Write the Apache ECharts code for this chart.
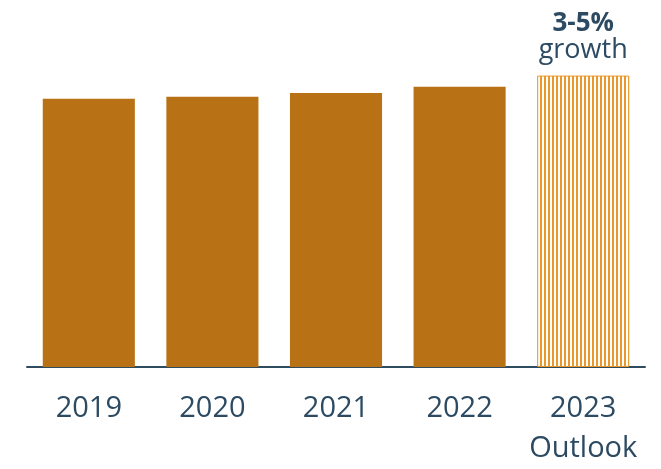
<!DOCTYPE html>
<html>
<head>
<meta charset="utf-8">
<style>
  html, body { margin: 0; padding: 0; background: #ffffff; }
  #chart { width: 661px; height: 469px; }
</style>
<script src="https://cdn.jsdelivr.net/npm/echarts@6/dist/echarts.min.js"></script>
</head>
<body>
<div id="chart"></div>
<script>
// Annual volume index (2019 = 100), with the 2023 outlook shown hatched
const categories = ['2019', '2020', '2021', '2022', '2023\nOutlook'];
const values = [100, 100.7, 102.1, 104.4, 108.6];
const outlookLabel = ['3-5%', 'growth'];

const textColor = '#2C4A62';
const solidColor = '#B87114';
const outlookColor = '#E9982C';

// Vertical stripe fill for the outlook bar
function stripePattern() {
  const c = document.createElement('canvas');
  c.width = 4; c.height = 4;
  const ctx = c.getContext('2d');
  ctx.fillStyle = '#ffffff';
  ctx.fillRect(0, 0, 4, 4);
  ctx.fillStyle = outlookColor;
  ctx.fillRect(0, 0, 2, 4);
  return c;
}

const lastIdx = values.length - 1;
const seriesData = values.map((v, i) => {
  if (i !== lastIdx) return { value: v, itemStyle: { color: solidColor } };
  return {
    value: v,
    itemStyle: {
      color: { image: stripePattern(), repeat: 'repeat' },
      borderColor: outlookColor,
      borderWidth: 1
    },
    label: {
      show: true,
      position: 'top',
      distance: 11,
      formatter: '{b|' + outlookLabel[0] + '}\n{r|' + outlookLabel[1] + '}',
      rich: {
        b: { fontFamily: 'Open Sans', fontWeight: 'bold', fontSize: 26, color: textColor, lineHeight: 26 },
        r: { fontFamily: 'Open Sans', fontSize: 27, color: textColor, lineHeight: 28 }
      }
    }
  };
});

const chart = echarts.init(document.getElementById('chart'), null, { renderer: 'canvas' });
chart.setOption({
  animation: false,
  backgroundColor: '#ffffff',
  grid: { left: 27, right: 16, top: 45, bottom: 99, containLabel: false },
  xAxis: {
    type: 'category',
    data: categories,
    axisLine: { show: true, lineStyle: { color: '#2F4B60', width: 2 } },
    axisTick: { show: false },
    axisLabel: {
      interval: 0,
      color: textColor,
      fontFamily: 'Open Sans',
      fontSize: 29,
      lineHeight: 40,
      margin: 22
    }
  },
  yAxis: {
    type: 'value',
    min: 0,
    max: 120,
    show: false,
    splitLine: { show: false }
  },
  series: [{
    type: 'bar',
    data: seriesData,
    barCategoryGap: '25.5%',
    z: 1
  }]
});
</script>
</body>
</html>
